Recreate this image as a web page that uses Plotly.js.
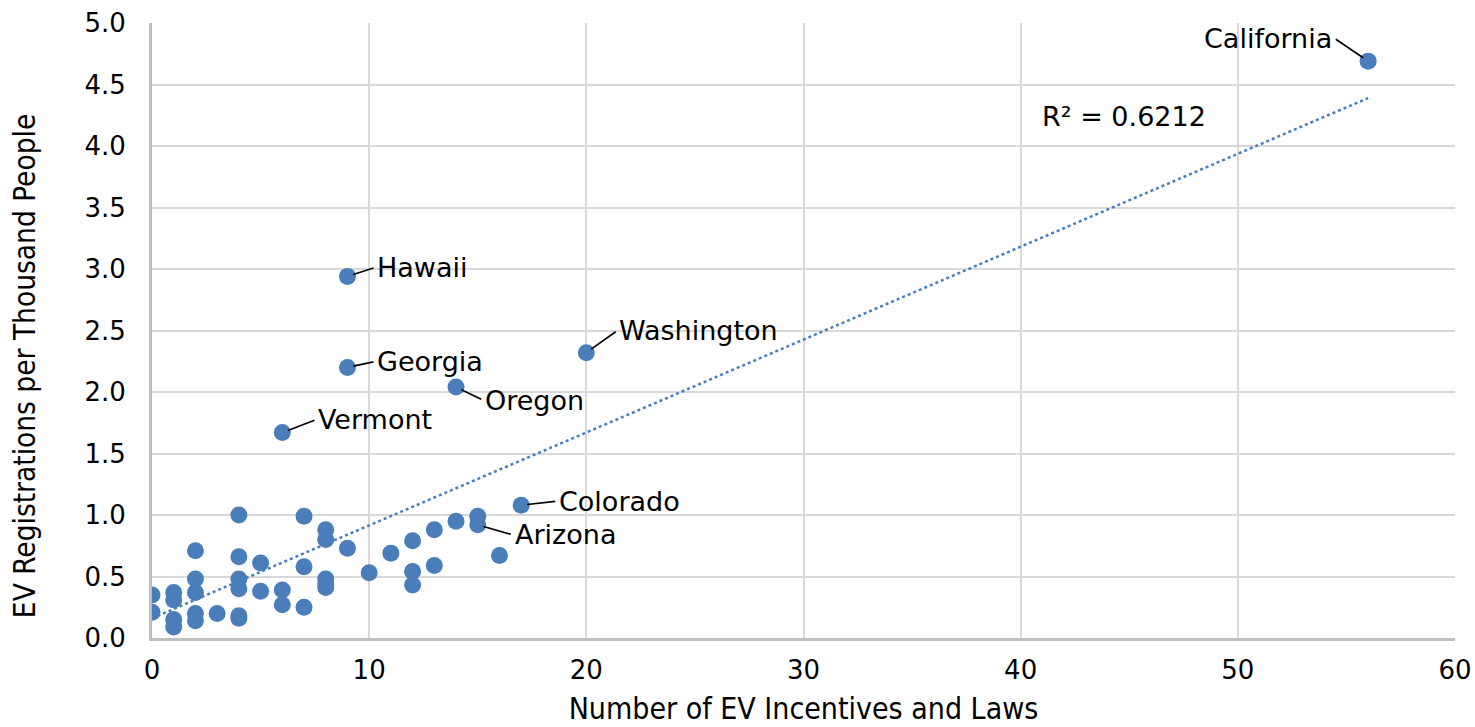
<!DOCTYPE html>
<html>
<head>
<meta charset="utf-8">
<script src="https://cdn.plot.ly/plotly-3.0.1.min.js"></script>
<style>
  html, body { margin: 0; padding: 0; background: #fff; }
  #chart { width: 1475px; height: 727px; }
</style>
</head>
<body>
<div id="chart"></div>
<script>
// ---- Data ----
const incentives = [0,0, 1,1,1,1, 2,2,2,2,2, 3, 4,4,4,4,4,4, 5,5, 6,6,6, 7,7,7, 8,8,8,8,8, 9,9,9, 10, 11, 12,12,12, 13,13, 14,14, 15,15, 16, 17, 20, 56];
const registrations = [0.35,0.21, 0.37,0.31,0.15,0.09, 0.71,0.48,0.37,0.20,0.14, 0.20, 1.00,0.66,0.48,0.40,0.18,0.16, 0.61,0.38, 0.39,0.27,1.67, 0.99,0.58,0.25, 0.88,0.80,0.48,0.44,0.41, 0.73,2.94,2.20, 0.53, 0.69, 0.79,0.54,0.43, 0.88,0.59, 0.95,2.04, 0.99,0.92, 0.67, 1.08, 2.32, 4.69];
const labelledStates = ["California", "Hawaii", "Georgia", "Washington", "Oregon", "Vermont", "Colorado", "Arizona"];
const labelledX = [56, 9, 9, 20, 14, 6, 17, 15];
const labelledY = [4.69, 2.94, 2.20, 2.32, 2.04, 1.67, 1.08, 0.92];
const rSquaredText = "R² = 0.6212";
const xTitle = "Number of EV Incentives and Laws";
const yTitle = "EV Registrations per Thousand People";
const xTickVals = [0, 10, 20, 30, 40, 50, 60];
const yTickVals = [0, 0.5, 1, 1.5, 2, 2.5, 3, 3.5, 4, 4.5, 5];

// ---- Styles ----
const blue = "rgb(74,126,187)";
const font = "DejaVu Sans, Verdana, sans-serif";
const titleFont = "DejaVu Sans Condensed, DejaVu Sans, sans-serif";
const labelStyle = {
  California: {ax: -34, ay: -23, xanchor: "right"},
  Hawaii:     {ax: 28, ay: -9,  xanchor: "left"},
  Georgia:    {ax: 28, ay: -6,  xanchor: "left"},
  Washington: {ax: 31, ay: -22, xanchor: "left"},
  Oregon:     {ax: 27, ay: 13,  xanchor: "left"},
  Vermont:    {ax: 34, ay: -13, xanchor: "left"},
  Colorado:   {ax: 36, ay: -4,  xanchor: "left"},
  Arizona:    {ax: 35, ay: 10,  xanchor: "left"}
};

// ---- Linear trendline computed from the data ----
const n = incentives.length;
const mx = incentives.reduce((a, b) => a + b, 0) / n;
const my = registrations.reduce((a, b) => a + b, 0) / n;
let sxy = 0, sxx = 0;
for (let i = 0; i < n; i++) {
  sxy += (incentives[i] - mx) * (registrations[i] - my);
  sxx += (incentives[i] - mx) * (incentives[i] - mx);
}
const slope = sxy / sxx;
const intercept = my - slope * mx;
const xMin = Math.min(...incentives), xMax = Math.max(...incentives);
const trendX = [xMin, xMax];
const trendY = trendX.map(x => intercept + slope * x);

const traces = [
  {
    x: trendX, y: trendY, type: "scatter", mode: "lines",
    line: {color: blue, width: 2.5, dash: "dot"},
    hoverinfo: "skip", showlegend: false
  },
  {
    x: incentives, y: registrations, type: "scatter", mode: "markers",
    marker: {color: blue, size: 17, line: {width: 0}},
    showlegend: false
  }
];

const annotations = labelledStates.map((name, i) => ({
  x: labelledX[i], y: labelledY[i], xref: "x", yref: "y",
  text: name, showarrow: true, arrowhead: 0, arrowwidth: 1.7, arrowcolor: "#000",
  ax: labelStyle[name].ax, ay: labelStyle[name].ay,
  xanchor: labelStyle[name].xanchor, yanchor: "middle",
  standoff: 6, startstandoff: 2,
  font: {family: font, size: 27, color: "#000"}
}));
annotations.push({
  x: 40.9, y: 4.24, xref: "x", yref: "y", text: rSquaredText, showarrow: false,
  xanchor: "left", yanchor: "middle",
  font: {family: font, size: 27, color: "#000"}
});
// y-axis title (placed as in the reference, slightly below the axis centre)
annotations.push({
  x: -0.0975, y: 0.442, xref: "paper", yref: "paper", text: yTitle, showarrow: false,
  textangle: -90, xanchor: "center", yanchor: "middle",
  font: {family: titleFont, size: 29.5, color: "#000"}
});

const layout = {
  width: 1475, height: 727,
  margin: {l: 152, r: 20, t: 23, b: 89},
  paper_bgcolor: "#fff", plot_bgcolor: "#fff",
  showlegend: false,
  xaxis: {
    range: [0, 60], tickvals: xTickVals, ticktext: xTickVals.map(v => String(v)),
    showgrid: true, gridcolor: "#d9d9d9", gridwidth: 2,
    zeroline: false, showline: true, linecolor: "#bfbfbf", linewidth: 3,
    mirror: false, ticks: "", ticklabelstandoff: 7, automargin: false,
    tickfont: {family: font, size: 26, color: "#000"},
    title: {text: xTitle, standoff: 14,
            font: {family: titleFont, size: 30, color: "#000"}}
  },
  yaxis: {
    range: [0, 5], tickvals: yTickVals, ticktext: yTickVals.map(v => v.toFixed(1)),
    showgrid: true, gridcolor: "#d9d9d9", gridwidth: 2,
    zeroline: false, showline: true, linecolor: "#bfbfbf", linewidth: 3,
    ticks: "", ticklabelstandoff: 18, automargin: false,
    tickfont: {family: font, size: 26, color: "#000"}
  },
  annotations: annotations
};

Plotly.newPlot("chart", traces, layout, {displayModeBar: false, staticPlot: true});
</script>
</body>
</html>
